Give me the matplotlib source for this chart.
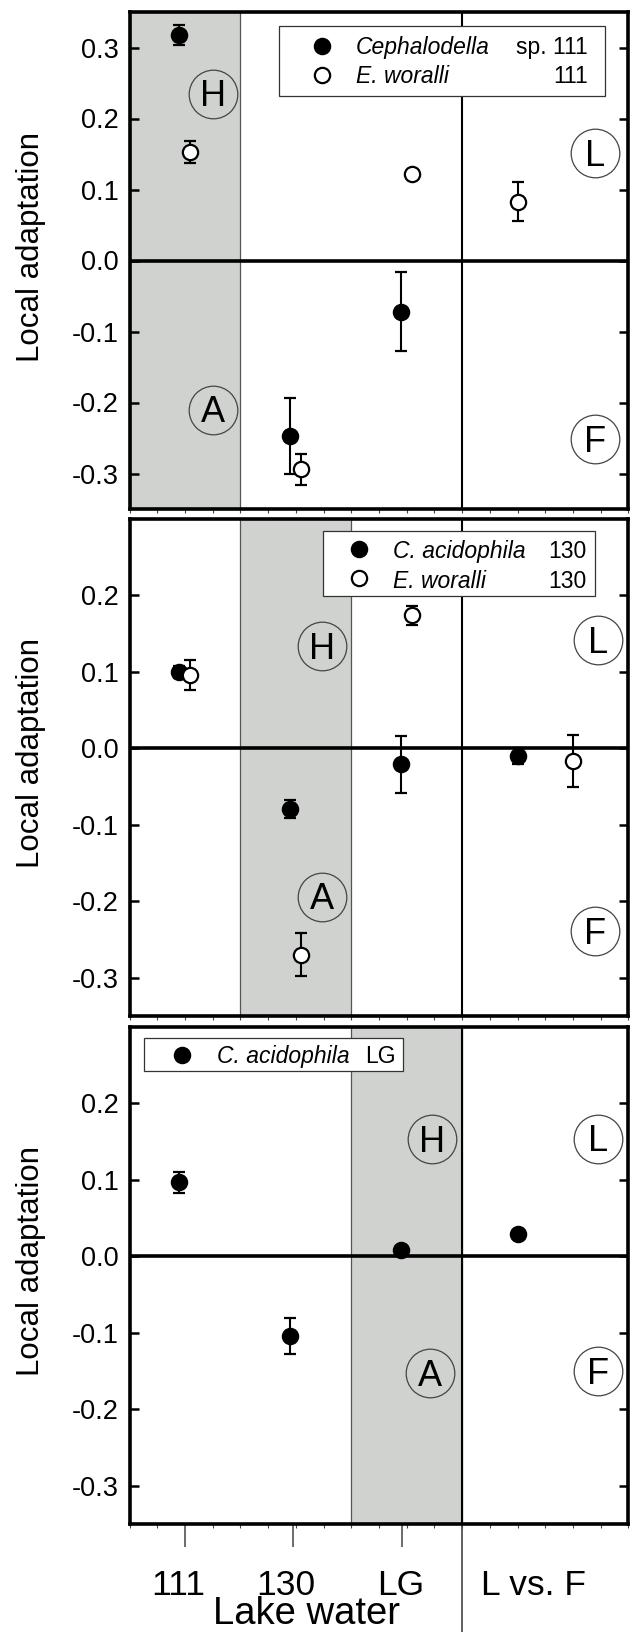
import matplotlib
matplotlib.use('Agg')
import matplotlib.pyplot as plt
from matplotlib.transforms import blended_transform_factory, offset_copy
from matplotlib.ticker import FixedLocator, FuncFormatter
from matplotlib.patches import Rectangle

plt.rcParams['font.family'] = ['Liberation Sans', 'DejaVu Sans']

# ---------------- data ----------------
categories = ['111', '130', 'LG', 'L vs. F']
cat_tick_pos = [2.0, 5.9, 9.84]
cat_label_pos = [1.745, 5.63, 9.77, 14.59]
x_axis_label = 'Lake water'
y_axis_label = 'Local adaptation'

# Panel 1: Cephalodella sp. 111 (filled) and E. woralli 111 (open)
p1_black_x = [1.8, 5.8, 9.8]
p1_black_y = [0.317, -0.247, -0.072]
p1_black_e = [0.014, 0.053, 0.056]
p1_open_x = [2.2, 6.2, 10.2, 14.0]
p1_open_y = [0.153, -0.294, 0.122, 0.083]
p1_open_e = [0.016, 0.022, 0.005, 0.027]

# Panel 2: C. acidophila 130 (filled) and E. woralli 130 (open)
p2_black_x = [1.77, 5.8, 9.8, 14.0]
p2_black_y = [0.100, -0.079, -0.021, -0.010]
p2_black_e = [0.008, 0.012, 0.037, 0.010]
p2_open_x = [2.2, 6.2, 10.2, 16.0]
p2_open_y = [0.096, -0.270, 0.174, -0.016]
p2_open_e = [0.020, 0.028, 0.012, 0.034]

# Panel 3: C. acidophila LG (filled)
p3_black_x = [1.8, 5.8, 9.8, 14.0]
p3_black_y = [0.097, -0.104, 0.008, 0.029]
p3_black_e = [0.014, 0.024, 0.003, 0.003]

shade_ranges = [(0, 4), (4, 8), (8, 12)]
ylims = [(-0.35, 0.35), (-0.35, 0.30), (-0.35, 0.30)]
yticks_list = [[-0.3, -0.2, -0.1, 0.0, 0.1, 0.2, 0.3],
               [-0.3, -0.2, -0.1, 0.0, 0.1, 0.2],
               [-0.3, -0.2, -0.1, 0.0, 0.1, 0.2]]

circle_letters = ['H', 'A', 'L', 'F']
p1_circle_x = [3.0, 3.0, 16.8, 16.8]
p1_circle_y = [0.235, -0.21, 0.151, -0.252]
p2_circle_x = [6.95, 6.95, 16.9, 16.8]
p2_circle_y = [0.134, -0.194, 0.142, -0.239]
p3_circle_x = [10.9, 10.85, 16.9, 16.9]
p3_circle_y = [0.153, -0.153, 0.154, -0.150]

p1_legend_names = ['Cephalodella', 'E. woralli']
p1_legend_tails = ['sp. 111', '111']
p2_legend_names = ['C. acidophila', 'E. woralli']
p2_legend_tails = ['130', '130']
p3_legend_names = ['C. acidophila']
p3_legend_tails = ['LG']

# ---------------- styling / layout ----------------
SHADE = '#d0d2d0'
W, H = 631, 1632
left_px, right_px = 129.5, 628.5
tops = [12, 519, 1027]
ph = 497

fig = plt.figure(figsize=(W / 100, H / 100), dpi=100)

legend_geo = [
    dict(box=(0.300, 0.953, 0.8316, 0.9724), mx=0.385, my=[0.9316, 0.8732],
         tx=0.4539, ty=[0.9149, 0.8565], rx=0.9182),
    dict(box=(0.387, 0.933, 0.845, 0.9765), mx=0.4605, my=[0.9396, 0.8813],
         tx=0.528, ty=[0.921, 0.8618], rx=0.915),
    dict(box=(0.0291, 0.548, 0.9115, 0.9779), mx=0.1046, my=[0.9437],
         tx=0.1754, ty=[0.927], rx=0.534),
]

panels = [
    dict(series=[(p1_black_x, p1_black_y, p1_black_e, 'k'),
                 (p1_open_x, p1_open_y, p1_open_e, 'white')],
         cx=p1_circle_x, cy=p1_circle_y,
         names=p1_legend_names, tails=p1_legend_tails, fills=['k', 'white']),
    dict(series=[(p2_black_x, p2_black_y, p2_black_e, 'k'),
                 (p2_open_x, p2_open_y, p2_open_e, 'white')],
         cx=p2_circle_x, cy=p2_circle_y,
         names=p2_legend_names, tails=p2_legend_tails, fills=['k', 'white']),
    dict(series=[(p3_black_x, p3_black_y, p3_black_e, 'k')],
         cx=p3_circle_x, cy=p3_circle_y,
         names=p3_legend_names, tails=p3_legend_tails, fills=['k']),
]

axes = []
for i, (t, pan) in enumerate(zip(tops, panels)):
    ax = fig.add_axes([left_px / W, 1 - (t + ph) / H, (right_px - left_px) / W, ph / H])
    axes.append(ax)
    ax.set_xlim(0, 18)
    ax.set_ylim(*ylims[i])
    ax.axvspan(*shade_ranges[i], facecolor=SHADE, edgecolor='#555555', lw=0.9, zorder=0)
    ax.axhline(0, color='k', lw=2.6, zorder=2)
    ax.axvline(12, color='k', lw=1.5, zorder=2)

    for (xs, ys, es, fc) in pan['series']:
        ax.errorbar(xs, ys, yerr=es, fmt='o', ms=11, mfc=fc, mec='k', mew=1.6,
                    ecolor='k', elinewidth=1.5, capsize=4.3, capthick=1.6, zorder=4)

    # circled letters
    txt_tr = offset_copy(ax.transData, fig=fig, y=-9.2, units='points')
    for L, cx, cy in zip(circle_letters, pan['cx'], pan['cy']):
        ax.plot([cx], [cy], marker='o', ms=35, mfc='none', mec='#444444', mew=0.9, zorder=3)
        ax.text(cx, cy, L, transform=txt_tr, ha='center', va='baseline', fontsize=26, zorder=3)

    # legend
    g = legend_geo[i]
    x0, x1, y0, y1 = g['box']
    ax.add_patch(Rectangle((x0, y0), x1 - x0, y1 - y0, transform=ax.transAxes,
                           facecolor='white', edgecolor='#333333', lw=0.9, zorder=5))
    for j, (nm, tl, fc) in enumerate(zip(pan['names'], pan['tails'], pan['fills'])):
        ax.plot([g['mx']], [g['my'][j]], 'o', ms=11, mfc=fc, mec='k', mew=1.6,
                transform=ax.transAxes, clip_on=False, zorder=6)
        ax.text(g['tx'], g['ty'][j], nm, transform=ax.transAxes, fontsize=16.5,
                style='italic', ha='left', va='baseline', zorder=6)
        ax.text(g['rx'], g['ty'][j], tl, transform=ax.transAxes, fontsize=16.5,
                ha='right', va='baseline', zorder=6)

    # spines & ticks
    for s in ax.spines.values():
        s.set_linewidth(2.6)
        s.set_zorder(7)
    ax.set_yticks(yticks_list[i])
    ax.yaxis.set_major_formatter(FuncFormatter(lambda v, p: f'{v:.1f}'))
    ax.tick_params(axis='y', which='major', direction='in', left=True, right=True,
                   length=6.5, width=1.8, labelsize=19.5, pad=8)
    ax.xaxis.set_minor_locator(FixedLocator(list(range(0, 19))))
    ax.tick_params(axis='x', which='minor', direction='out', length=2.6, width=0.8,
                   color='#444444', bottom=True, top=False)
    if i < 2:
        ax.set_xticks([])
    else:
        ax.set_xticks(cat_tick_pos)
        ax.set_xticklabels([''] * len(cat_tick_pos))
        ax.tick_params(axis='x', which='major', direction='out', length=16.5, width=1.1,
                       color='#444444')

    # y label
    fig.text(39.3 / W, 1 - (t + ph / 2 - 14) / H, y_axis_label, rotation=90,
             rotation_mode='anchor', ha='center', va='baseline', fontsize=22.5)

ax3 = axes[2]
blend_axes = blended_transform_factory(ax3.transData, ax3.transAxes)
ax3.plot([12, 12], [0, -0.3], transform=blend_axes, color='#444444', lw=1.2, clip_on=False)

blend_fig = blended_transform_factory(ax3.transData, fig.transFigure)
for lab, xp in zip(categories, cat_label_pos):
    ax3.text(xp, 1 - 1594.8 / H, lab, transform=blend_fig, ha='center', va='baseline',
             fontsize=25.5)
fig.text(306.5 / W, 1 - 1623.5 / H, x_axis_label, ha='center', va='baseline', fontsize=27.5)

fig.savefig('out.png', dpi=100)
